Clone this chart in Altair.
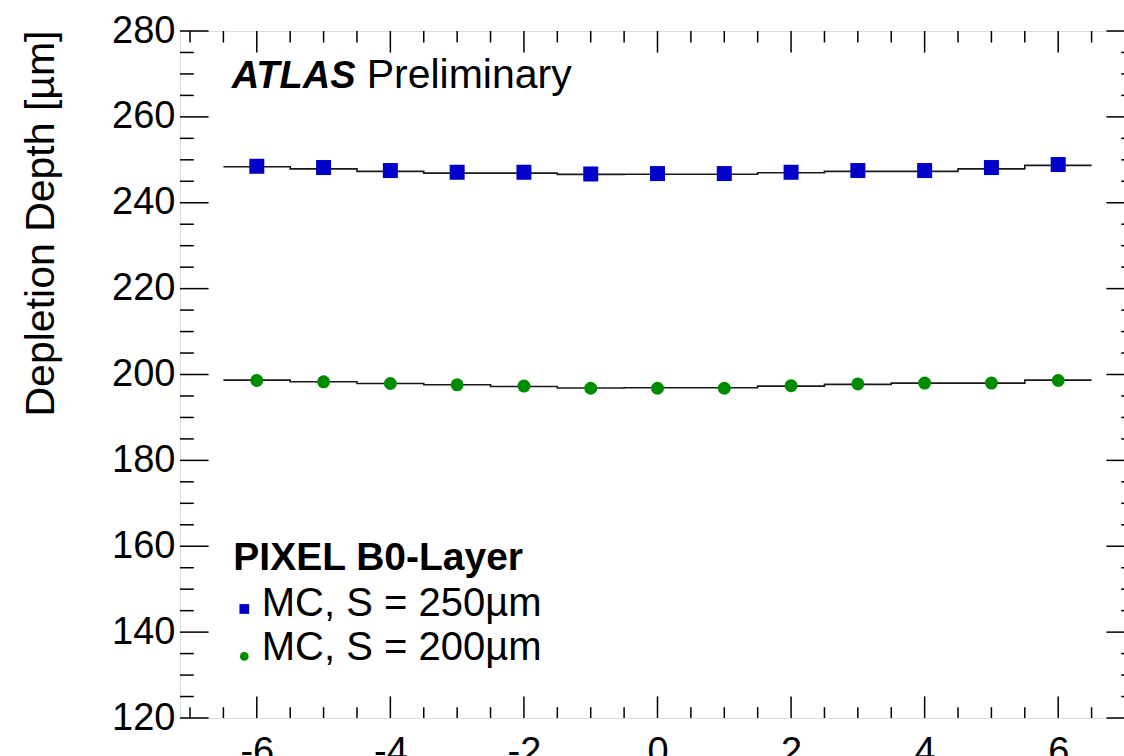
import altair as alt
import pandas as pd

# ---------------- data ----------------
x_vals = [-6, -5, -4, -3, -2, -1, 0, 1, 2, 3, 4, 5, 6]
blue_pts = [248.5, 248.2, 247.5, 247.1, 247.1, 246.7, 246.8, 246.8, 247.1, 247.5, 247.5, 248.2, 248.9]
green_pts = [198.6, 198.3, 197.9, 197.6, 197.3, 196.8, 196.8, 196.8, 197.4, 197.8, 198.0, 198.0, 198.6]
blue_fit = [248.4, 247.9, 247.3, 246.9, 246.9, 246.6, 246.65, 246.65, 247.0, 247.3, 247.3, 247.9, 248.7]
green_fit = [198.7, 198.3, 197.9, 197.6, 197.2, 196.85, 196.9, 196.9, 197.3, 197.7, 198.0, 198.0, 198.7]

series = ["MC, S = 250\u00b5m", "MC, S = 200\u00b5m"]
colors = ["#0000c8", "#008c00"]
shapes = ["square", "circle"]
sizes = [225, 169]
legend_sizes = [95, 75]
legend_title = "PIXEL B0-Layer"

x_major = [-6, -4, -2, 0, 2, 4, 6]
x_minor = [-7, -6.5, -5.5, -5, -4.5, -3.5, -3, -2.5, -1.5, -1, -0.5,
           0.5, 1, 1.5, 2.5, 3, 3.5, 4.5, 5, 5.5, 6.5, 7]
y_major = [120, 140, 160, 180, 200, 220, 240, 260, 280]
y_minor = [125, 130, 135, 145, 150, 155, 165, 170, 175, 185, 190, 195,
           205, 210, 215, 225, 230, 235, 245, 250, 255, 265, 270, 275]

x_domain = [-7.15, 7.15]
y_domain = [120, 280]

# ---------------- tables ----------------
pts = pd.DataFrame({
    "x": x_vals + x_vals,
    "y": blue_pts + green_pts,
    "series": [series[0]] * len(x_vals) + [series[1]] * len(x_vals),
})

fit_rows = []
for name, vals in ((series[0], blue_fit), (series[1], green_fit)):
    for xv, v in zip(x_vals, vals):
        fit_rows.append({"x": xv - 0.5, "y": v, "series": name})
    fit_rows.append({"x": x_vals[-1] + 0.5, "y": vals[-1], "series": name})
fit = pd.DataFrame(fit_rows)

W, H = 955, 687
FONT = "Liberation Sans"

xs = alt.Scale(domain=x_domain, nice=False, zero=False)
ys = alt.Scale(domain=y_domain, nice=False, zero=False)
x_axis = alt.Axis(values=x_major, ticks=False, tickSize=0, domain=False, grid=False,
                  labelFontSize=38, labelPadding=15, labelColor="black",
                  labelExpr="toString(datum.value)", labelFont=FONT)
y_axis = alt.Axis(values=y_major, ticks=False, tickSize=0, domain=False, grid=False,
                  labelFontSize=38, labelPadding=5, labelColor="black", labelFont=FONT,
                  title="Depletion Depth [\u00b5m]", titleFontSize=41, titleFontWeight="normal",
                  titleColor="black", titleFont=FONT, titleAngle=270, titleAlign="right",
                  titleBaseline="alphabetic", titleX=-127, titleY=-1)


def X(field):
    return alt.X(field, type="quantitative", scale=xs, axis=x_axis, title=None)


def Y(field):
    return alt.Y(field, type="quantitative", scale=ys, axis=y_axis, title="Depletion Depth [\u00b5m]")


lines = alt.Chart(fit).mark_line(interpolate="step-after", color="#1a1a1a", strokeWidth=1.6).encode(
    x=X("x"), y=Y("y"), detail="series:N"
)

color_enc = alt.Color("series:N", scale=alt.Scale(domain=series, range=colors), legend=None)
shape_enc = alt.Shape("series:N", scale=alt.Scale(domain=series, range=shapes), legend=None)

points = alt.Chart(pts).mark_point(filled=True, opacity=1, strokeWidth=0).encode(
    x=X("x"),
    y=Y("y"),
    color=color_enc,
    shape=shape_enc,
    size=alt.condition(alt.datum.series == series[0], alt.value(sizes[0]), alt.value(sizes[1])),
)

tick_style = dict(color="black", strokeWidth=1.5)
xmaj = pd.DataFrame({"v": x_major})
xmin = pd.DataFrame({"v": x_minor})
ymaj = pd.DataFrame({"v": y_major})
ymin = pd.DataFrame({"v": y_minor})

ticks = [
    alt.Chart(xmaj).mark_rule(**tick_style).encode(x=X("v"), y=alt.value(H), y2=alt.value(H - 21.6)),
    alt.Chart(xmin).mark_rule(**tick_style).encode(x=X("v"), y=alt.value(H), y2=alt.value(H - 10.8)),
    alt.Chart(xmaj).mark_rule(**tick_style).encode(x=X("v"), y=alt.value(0), y2=alt.value(21.6)),
    alt.Chart(xmin).mark_rule(**tick_style).encode(x=X("v"), y=alt.value(0), y2=alt.value(11.5)),
    alt.Chart(ymaj).mark_rule(**tick_style).encode(y=Y("v"), x=alt.value(0), x2=alt.value(28.6)),
    alt.Chart(ymin).mark_rule(**tick_style).encode(y=Y("v"), x=alt.value(0), x2=alt.value(13.8)),
    alt.Chart(ymaj).mark_rule(**tick_style).encode(y=Y("v"), x=alt.value(W), x2=alt.value(W - 28.6)),
    alt.Chart(ymin).mark_rule(**tick_style).encode(y=Y("v"), x=alt.value(W), x2=alt.value(W - 13.8)),
]


def label(text, x, y, size, **kw):
    return alt.Chart(pd.DataFrame({"t": [text]})).mark_text(
        align="left", baseline="alphabetic", fontSize=size, color="black", font=FONT, **kw
    ).encode(x=alt.value(x), y=alt.value(y), text="t:N")


atlas = label("ATLAS", 51.7, 57, 38, fontWeight="bold", fontStyle="italic")
prelim = label("Preliminary", 186.7, 57, 41)

# ---------------- legend (drawn as annotation) ----------------
leg_title = label(legend_title, 53.3, 538.7, 39, fontWeight="bold")
leg_texts = [label(series[0], 81.7, 585.4, 40), label(series[1], 81.7, 628.7, 40)]


def leg_symbol(i, y):
    return alt.Chart(pd.DataFrame({"series": [series[i]]})).mark_point(
        filled=True, opacity=1, strokeWidth=0, size=legend_sizes[i]
    ).encode(x=alt.value(64.3), y=alt.value(y), color=color_enc, shape=shape_enc)


leg_syms = [leg_symbol(0, 578.0), leg_symbol(1, 625.4)]

chart = alt.layer(*ticks, lines, points, atlas, prelim, leg_title, *leg_texts, *leg_syms).properties(
    width=W, height=H,
    autosize=alt.AutoSizeParams(type="none"),
    padding={"left": 180, "top": 31, "right": -11, "bottom": 38},
    background="white",
).configure_view(
    stroke="black", strokeWidth=1.5
).configure(
    font=FONT
)

chart.save("out.html", embed_options={"renderer": "svg", "actions": False})
